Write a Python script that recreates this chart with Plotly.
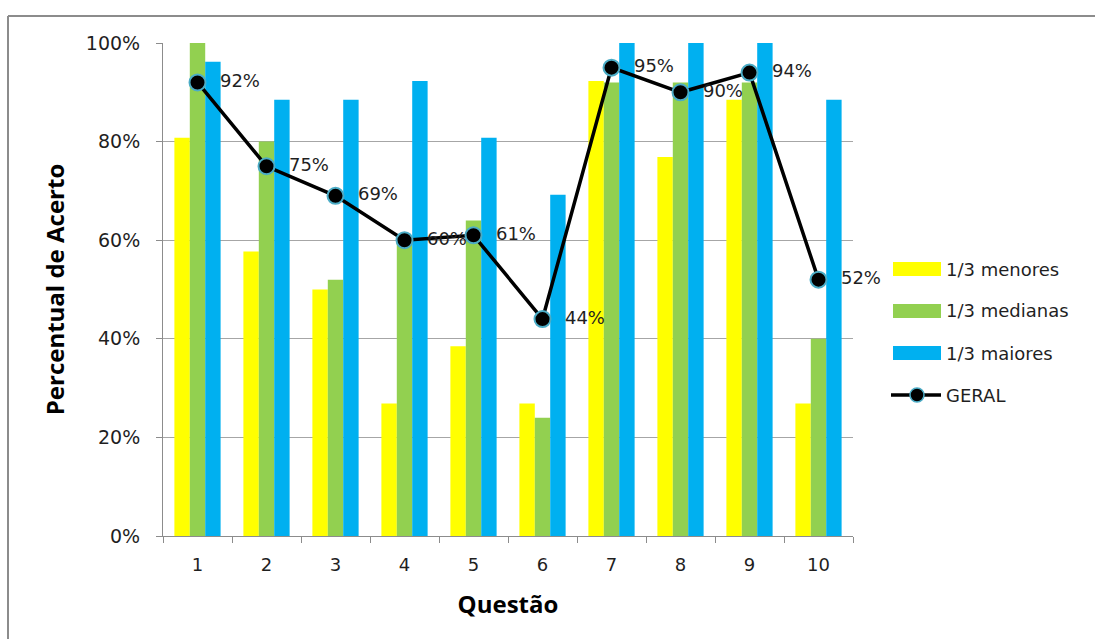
import plotly.graph_objects as go

# Questions and hit rates by group (fractions of 1)
questoes = ["1", "2", "3", "4", "5", "6", "7", "8", "9", "10"]
menores = [0.808, 0.577, 0.500, 0.269, 0.385, 0.269, 0.923, 0.769, 0.885, 0.269]
medianas = [1.00, 0.80, 0.52, 0.60, 0.64, 0.24, 0.92, 0.92, 0.92, 0.40]
maiores = [0.962, 0.885, 0.885, 0.923, 0.808, 0.692, 1.00, 1.00, 1.00, 0.885]
geral = [0.92, 0.75, 0.69, 0.60, 0.61, 0.44, 0.95, 0.90, 0.94, 0.52]

series_names = ["1/3 menores", "1/3 medianas", "1/3 maiores", "GERAL"]
bar_colors = ["#FFFF00", "#92D050", "#00B0F0"]
line_color = "#000000"
marker_edge = "#4BACC6"

FONT = "'DejaVu Sans', sans-serif"
TITLE_FONT = "'Open Sans', sans-serif"
TEXT_COLOR = "#1f1f1f"
W, H = 1095, 639
L, R, T, B = 163, 242, 43, 103
PW, PH = W - L - R, H - T - B


def px_x(px):
    return (px - L) / PW


def px_y(py):
    return (H - B - py) / PH


fig = go.Figure()
for name, vals, col in zip(series_names[:3], [menores, medianas, maiores], bar_colors):
    fig.add_trace(go.Bar(x=questoes, y=vals, name=name, marker=dict(color=col, line=dict(width=0)),
                         showlegend=False))

fig.add_trace(go.Scatter(
    x=questoes, y=geral, name=series_names[3], mode="lines+markers+text",
    line=dict(color=line_color, width=3.5),
    marker=dict(size=16, color=line_color, line=dict(color=marker_edge, width=2)),
    text=["  " + f"{round(v * 100)}%" for v in geral],
    textposition="middle right",
    textfont=dict(size=18, color=TEXT_COLOR, family=FONT),
    showlegend=False, cliponaxis=False,
))

shapes = []
annotations = []
# Legend drawn in paper coordinates
leg_y = [269, 311, 353, 395]
for i, name in enumerate(series_names):
    yc = leg_y[i]
    if i < 3:
        shapes.append(dict(type="rect", xref="paper", yref="paper",
                           x0=px_x(893), x1=px_x(941), y0=px_y(yc + 7), y1=px_y(yc - 7),
                           fillcolor=bar_colors[i], line=dict(width=0)))
    else:
        shapes.append(dict(type="line", xref="paper", yref="paper",
                           x0=px_x(891), x1=px_x(941), y0=px_y(yc), y1=px_y(yc),
                           line=dict(color=line_color, width=3.5)))
        shapes.append(dict(type="circle", xref="paper", yref="paper",
                           x0=px_x(910), x1=px_x(924), y0=px_y(yc + 7), y1=px_y(yc - 7),
                           fillcolor=line_color, line=dict(color=marker_edge, width=1.5)))
    annotations.append(dict(text=name, xref="paper", yref="paper", x=px_x(944), y=px_y(yc),
                            xanchor="left", yanchor="middle", showarrow=False,
                            font=dict(size=18, color=TEXT_COLOR, family=FONT)))

# Outer frame (top and left edges)
shapes.append(dict(type="line", xref="paper", yref="paper", x0=px_x(8), x1=px_x(1095),
                   y0=px_y(16), y1=px_y(16), line=dict(color="#8c8c8c", width=2)))
shapes.append(dict(type="line", xref="paper", yref="paper", x0=px_x(8), x1=px_x(8),
                   y0=px_y(16), y1=px_y(639), line=dict(color="#8c8c8c", width=2)))

fig.update_layout(
    width=W, height=H,
    margin=dict(l=L, r=R, t=T, b=B, pad=0),
    paper_bgcolor="white", plot_bgcolor="white",
    barmode="group", bargap=0.33, bargroupgap=0,
    font=dict(family=FONT, size=18, color=TEXT_COLOR),
    shapes=shapes, annotations=annotations,
    showlegend=False,
)
fig.update_xaxes(
    type="category", range=[-0.5, 9.5], showline=True, linecolor="#8c8c8c", linewidth=1,
    ticks="outside", tickson="boundaries", ticklen=6, tickcolor="#8c8c8c",
    tickfont=dict(size=18, family=FONT, color=TEXT_COLOR), ticklabelstandoff=12,
    title=dict(text="<b>Questão</b>", font=dict(size=24, family=TITLE_FONT, color="#000000"), standoff=22),
    showgrid=False,
)
fig.update_yaxes(
    range=[0, 1], tickvals=[0, 0.2, 0.4, 0.6, 0.8, 1.0], tickformat=".0%",
    showline=True, linecolor="#8c8c8c", linewidth=1,
    ticks="outside", ticklen=6, tickcolor="#8c8c8c",
    showgrid=True, gridcolor="#a6a6a6", gridwidth=1,
    tickfont=dict(size=19, family=FONT, color=TEXT_COLOR), ticklabelstandoff=12,
    title=dict(text="<b>Percentual de Acerto</b>", font=dict(size=24, family=TITLE_FONT, color="#000000"), standoff=14),
    zeroline=False,
)

fig.write_html("out.html")
